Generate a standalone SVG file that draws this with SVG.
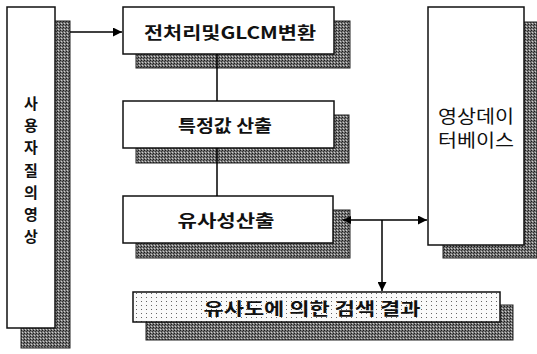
<svg xmlns="http://www.w3.org/2000/svg" width="537" height="354" viewBox="0 0 537 354">
<defs>
<pattern id="shade" width="3" height="3" patternUnits="userSpaceOnUse">
<rect width="3" height="3" fill="#757575"/>
<rect x="0" y="0" width="1" height="1" fill="#1a1a1a"/>
<rect x="2" y="1" width="1" height="1" fill="#333"/>
<rect x="1" y="2" width="1" height="1" fill="#d0d0d0"/>
</pattern>
<pattern id="dots" width="5" height="4" patternUnits="userSpaceOnUse">
<rect width="5" height="4" fill="#fafafa"/>
<rect x="1" y="1" width="1" height="1" fill="#666"/>
</pattern>
<marker id="arr" viewBox="0 0 10 10" refX="10" refY="5" markerWidth="9" markerHeight="9" markerUnits="userSpaceOnUse" orient="auto">
<path d="M0,0 L10,5 L0,10 z" fill="#000"/>
</marker>
<marker id="arrs" viewBox="0 0 10 10" refX="0" refY="5" markerWidth="8" markerHeight="8" markerUnits="userSpaceOnUse" orient="auto">
<path d="M10,0 L0,5 L10,10 z" fill="#000"/>
</marker>
</defs>
<style>
.sh{fill:url(#shade);stroke:#222;stroke-width:1}
.bx{fill:#fff;stroke:#111;stroke-width:1.5}
.t{font-family:"Noto Sans CJK KR","Noto Sans",sans-serif;font-size:17px;font-weight:bold;fill:#111;text-anchor:middle;dominant-baseline:central}
.tv{font-family:"Noto Sans CJK KR","Noto Sans",sans-serif;font-size:15px;font-weight:bold;fill:#111;text-anchor:middle;dominant-baseline:central}
.tr{font-family:"Noto Sans CJK KR","Noto Sans",sans-serif;font-size:18px;fill:#111;text-anchor:middle;dominant-baseline:central}
.ln{stroke:#000;stroke-width:1.5;fill:none}
</style>
<g id="query">
<rect class="sh" x="21" y="21" width="49" height="327"/>
<rect class="bx" x="7" y="7" width="48" height="321"/>
<text class="tv" x="31" y="102">사</text>
<text class="tv" x="31" y="124">용</text>
<text class="tv" x="31" y="146">자</text>
<text class="tv" x="31" y="169">질</text>
<text class="tv" x="31" y="191">의</text>
<text class="tv" x="31" y="213">영</text>
<text class="tv" x="31" y="235">상</text>
</g>
<g id="preprocess">
<rect class="sh" x="136" y="21" width="214" height="47"/>
<rect class="bx" x="123" y="7" width="211" height="47"/>
<text class="t" x="230" y="31" textLength="172" lengthAdjust="spacingAndGlyphs">전처리및GLCM변환</text>
</g>
<g id="feature">
<rect class="sh" x="136" y="115" width="213" height="48"/>
<rect class="bx" x="123" y="101" width="211" height="47"/>
<text class="t" x="225" y="124" textLength="94" lengthAdjust="spacingAndGlyphs">특정값 산출</text>
</g>
<g id="similarity">
<rect class="sh" x="136" y="210" width="214" height="48"/>
<rect class="bx" x="123" y="196" width="210" height="47"/>
<text class="t" x="226" y="219" textLength="97" lengthAdjust="spacingAndGlyphs">유사성산출</text>
</g>
<g id="database">
<rect class="sh" x="443" y="22" width="94" height="236"/>
<rect class="bx" x="428" y="7" width="96" height="238"/>
<text class="tr" x="476" y="115" textLength="76" lengthAdjust="spacingAndGlyphs">영상데이</text>
<text class="tr" x="476" y="139" textLength="76" lengthAdjust="spacingAndGlyphs">터베이스</text>
</g>
<g id="result">
<rect class="sh" x="146" y="305" width="367" height="35"/>
<rect class="bx" x="133" y="292" width="367" height="30" style="fill:url(#dots)"/>
<text class="t" x="312" y="307" textLength="217" lengthAdjust="spacingAndGlyphs">유사도에 의한 검색 결과</text>
</g>
<g id="connectors">
<line class="ln" x1="70" y1="32" x2="122" y2="32" marker-end="url(#arr)"/>
<line class="ln" x1="217" y1="54" x2="217" y2="101"/>
<line class="ln" x1="217" y1="148" x2="217" y2="196"/>
<line class="ln" x1="343" y1="220" x2="427" y2="220" marker-start="url(#arrs)" marker-end="url(#arr)"/>
<line class="ln" x1="382" y1="220" x2="382" y2="291" marker-end="url(#arr)"/>
</g>
</svg>
